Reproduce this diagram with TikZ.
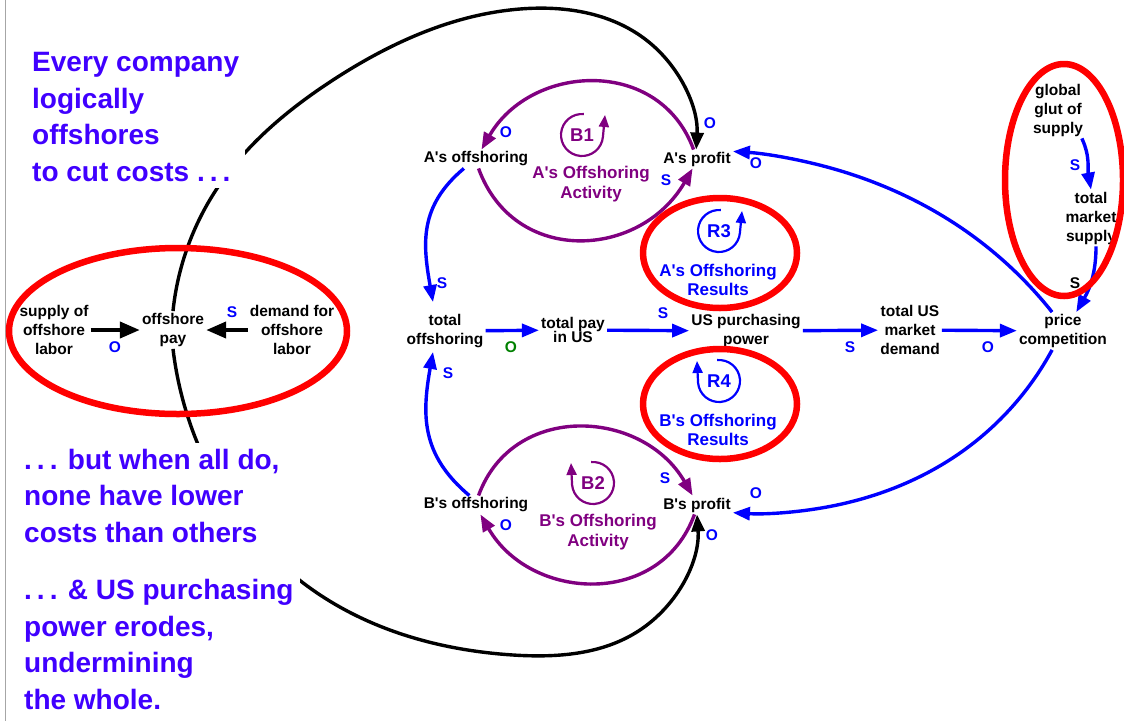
\documentclass[tikz,border=0pt]{standalone}
\usepackage{fontspec}
\setmainfont{Liberation Sans}[Ligatures=TeXOff]
\usepackage{tikz}
\usetikzlibrary{hobby}
\usetikzlibrary{arrows.meta}
\usetikzlibrary{calc}
\definecolor{notecol}{RGB}{64,0,255}
\definecolor{loopp}{RGB}{128,0,128}
\definecolor{linkb}{RGB}{0,0,255}
\definecolor{ringr}{RGB}{255,0,0}
\definecolor{signg}{RGB}{0,128,0}
\def\LoopR{21}
\newcommand\trail{.\kern5pt.\kern5pt.}
\tikzset{
  var/.style={font=\bfseries\fontsize{15.5}{19}\selectfont, align=center, inner sep=2pt},
  sgn/.style={font=\bfseries\fontsize{15.5}{15.5}\selectfont, text=linkb, inner sep=0pt},
  looptag/.style={font=\bfseries\fontsize{18.5}{18.5}\selectfont, inner sep=0pt},
  loopname/.style={font=\bfseries\fontsize{17}{19.5}\selectfont, align=center, inner sep=0pt},
  note/.style={font=\bfseries\fontsize{28}{36.5}\selectfont, text=notecol, align=left,
    fill=white, inner sep=6pt, anchor=west},
  tipped/.style={-{Triangle[length=17pt,width=13pt]}},
  blink/.style={tipped, draw=linkb, line width=3.4pt},
  plink/.style={tipped, draw=loopp, line width=3.4pt},
  klink/.style={tipped, draw=black, line width=3.4pt},
  kbig/.style={-{Triangle[length=20pt,width=16pt]}, draw=black, line width=4pt},
  ring/.style={draw=ringr, line width=6.5pt},
  lcirc/.style={-{Triangle[length=12pt,width=10pt]}, line width=2.2pt},
}

\begin{document}
\begin{tikzpicture}[x=1pt,y=1pt]
\useasboundingbox (0,0) rectangle (1124,-721);
\draw[gray!70, line width=1.5pt] (5.5,0) -- (5.5,-721);

% offshore labour market
\node[var] (supl) at (54,-330) {supply of\\offshore\\labor};
\node[var] (opay) at (173,-330) {offshore\\pay};
\node[var] (deml) at (292,-330) {demand for\\offshore\\labor};

% firms and the US economy
\node[var] (aoff) at (476,-159) {A's offshoring};
\node[var] (aprof) at (697,-159) {A's profit};
\node[var] (boff) at (476,-505) {B's offshoring};
\node[var] (bprof) at (697,-505) {B's profit};
\node[var] (toff) at (445,-331) {total\\offshoring};
\node[var] (tpay) at (573,-330) {total pay\\[-5pt]in US};
\node[var] (uspp) at (746,-331) {US purchasing\\power};
\node[var] (tusd) at (910,-330) {total US\\market\\demand};
\node[var] (pcomp) at (1063,-331) {price\\competition};
\node[var] (glut) at (1058,-110) {global\\glut of\\supply};
\node[var] (tms) at (1091,-218) {total\\market\\supply};

% loop markers
\node[looptag, text=loopp] (lb1) at (582,-135) {B1};
\node[loopname, text=loopp] (nb1) at (591,-184) {A's Offshoring\\Activity};
\node[looptag, text=loopp] (lb2) at (593,-483) {B2};
\node[loopname, text=loopp] (nb2) at (598,-532) {B's Offshoring\\Activity};
\node[looptag, text=linkb] (lr3) at (719,-231) {R3};
\node[loopname, text=linkb] (nr3) at (718,-280) {A's Offshoring\\Results};
\node[looptag, text=linkb] (lr4) at (719,-381) {R4};
\node[loopname, text=linkb] (nr4) at (718,-430) {B's Offshoring\\Results};

\draw[lcirc, loopp] (lb1.center) ++(85:\LoopR) arc[start angle=85, end angle=355, radius=\LoopR] -- ($(lb1.center)+(23,20)$);
\draw[lcirc, linkb] (lr3.center) ++(85:\LoopR) arc[start angle=85, end angle=355, radius=\LoopR] -- ($(lr3.center)+(23,20)$);
\draw[lcirc, loopp] (lb2.center) ++(95:\LoopR) arc[start angle=95, end angle=-175, radius=\LoopR] -- ($(lb2.center)+(-22,20)$);
\draw[lcirc, linkb] (lr4.center) ++(95:\LoopR) arc[start angle=95, end angle=-175, radius=\LoopR] -- ($(lr4.center)+(-22,20)$);

% links
\draw[kbig] (supl) -- (opay);
\draw[kbig] (deml) -- (opay);
\draw[plink] (aprof.110) to[out=110,in=60,looseness=1.2] (aoff.60);
\draw[plink] (aoff.-75) to[out=-70,in=-120,looseness=1.25] (aprof.-115);
\draw[plink] (boff.75) to[out=70,in=120,looseness=1.2] (bprof.115);
\draw[plink] (bprof.-105) to[out=-110,in=-60,looseness=1.2] (boff.-65);
\draw[blink] (aoff.218) to[out=-140,in=100,looseness=1.1] ([xshift=-12pt,yshift=10pt]toff.north);
\draw[blink] (boff.125) to[out=140,in=-100,looseness=1.1] ([xshift=-12pt,yshift=-2pt]toff.south);
\draw[blink] (toff) -- (tpay);
\draw[blink] (tpay) -- (uspp);
\draw[blink] (uspp) -- (tusd);
\draw[blink] (tusd) -- (pcomp);
\draw[blink] (glut.-50) to[out=-65,in=100] (tms.north);
\draw[blink] (tms.-80) to[out=-90,in=60] (pcomp.55);
\draw[blink] (pcomp.120) to[curve through={(960,-227) .. (827,-167)}] (aprof.12);
\draw[blink] (pcomp.-120) to[curve through={(960,-453) .. (827,-507)}] (bprof.-12);
\draw[klink] (opay.north) to[curve through={(216,-190) .. (333,-80) .. (520,-9) .. (650,-43)}] (aprof.95);
\draw[klink] (opay.south) to[curve through={(195,-437) .. (310,-588) .. (513,-655) .. (640,-630)}] (bprof.south);

% polarities
\node[sgn] (sl1) at (115,-347) {O};
\node[sgn] (sl2) at (232,-312) {S};
\node[sgn] (sa1) at (506,-132) {O};
\node[sgn] (sa2) at (666,-180) {S};
\node[sgn] (sa3) at (710,-123) {O};
\node[sgn] (sa4) at (756,-163) {O};
\node[sgn] (sa5) at (442,-283) {S};
\node[sgn] (sb1) at (448,-373) {S};
\node[sgn] (sb2) at (665,-478) {S};
\node[sgn] (sb3) at (756,-493) {O};
\node[sgn] (sb4) at (506,-525) {O};
\node[sgn] (sb5) at (712,-535) {O};
\node[sgn, text=signg] (sm1) at (511,-347) {O};
\node[sgn] (sm2) at (663,-313) {S};
\node[sgn] (sm3) at (850,-347) {S};
\node[sgn] (sm4) at (988,-347) {O};
\node[sgn] (sg1) at (1075,-165) {S};
\node[sgn, text=black] (sg2) at (1075,-283) {S};

% highlight rings
\draw[ring] (178,-331) ellipse[x radius=169, y radius=83];
\draw[ring] (720,-253) ellipse[x radius=77, y radius=55];
\draw[ring] (720,-404) ellipse[x radius=77, y radius=55];
\draw[ring] (1064,-180) ellipse[x radius=59, y radius=116];

% commentary
\node[note] (nt1) at (26,-117) {Every company\\logically\\offshores\\to cut costs \trail};
\node[note] (nt2) at (18,-579) {\trail{} but when all do,\\none have lower\\costs than others\\[21pt]\trail{} \& US purchasing\\power erodes,\\undermining\\the whole.};
\end{tikzpicture}
\end{document}
